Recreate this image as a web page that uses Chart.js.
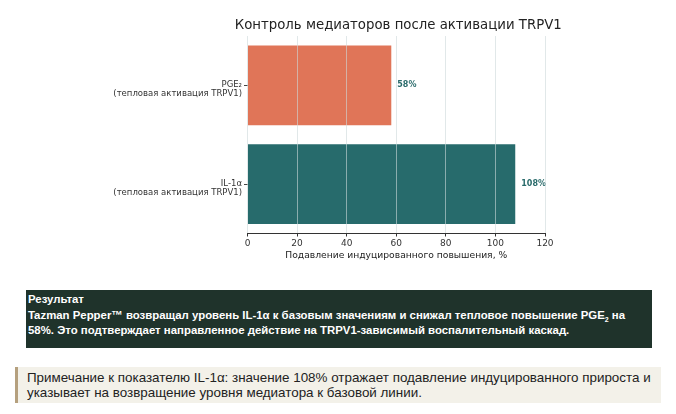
<!DOCTYPE html>
<html lang="ru">
<head>
<meta charset="utf-8">
<script src="https://cdn.jsdelivr.net/npm/chart.js@4"></script>
<style>
  html, body { margin: 0; padding: 0; background: #fff; }
  body { width: 676px; height: 414px; position: relative; overflow: hidden; font-family: "Liberation Sans", Arial, sans-serif; }
  #chartBox { position: absolute; left: 0; top: 0; width: 676px; height: 275px; }
  .result {
    position: absolute; left: 26px; top: 290px; width: 621px; height: 54px;
    background: #1f332b; color: #fff; font-weight: bold; font-size: 11.4px;
    line-height: 15.5px; padding: 2px 3px 2px 2px;
  }
  .result sub { font-size: 7px; line-height: 0; }
  .note {
    position: absolute; left: 15px; top: 367px; height: 36px; width: 646px;
    background: #f3f1e9; border-left: 3px solid #b5a07e; color: #222;
    font-size: 13.4px; line-height: 15px; padding: 3px 0 0 9px; box-sizing: border-box;
  }
</style>
</head>
<body>
<div id="chartBox"><canvas id="balkenDiagramm"></canvas></div>

<div class="result">
  Результат<br>
  Tazman Pepper™ возвращал уровень IL-1α к базовым значениям и снижал тепловое повышение PGE<sub>2</sub> на<br>
  58%. Это подтверждает направленное действие на TRPV1-зависимый воспалительный каскад.
</div>

<div class="note">
  Примечание к показателю IL-1α: значение 108% отражает подавление индуцированного прироста и<br>
  указывает на возвращение уровня медиатора к базовой линии.
</div>

<script>
// Daten
const kategorien = [
  ['PGE₂', '(тепловая активация TRPV1)'],
  ['IL-1α', '(тепловая активация TRPV1)']
];
const unterdrueckung = [58, 108];
const xTicks = [0, 20, 40, 60, 80, 100, 120];

const titel = 'Контроль медиаторов после активации TRPV1';
const xTitel = 'Подавление индуцированного повышения, %';

// Werte rechts neben die Balken schreiben
const wertLabels = {
  id: 'wertLabels',
  afterDatasetsDraw(chart) {
    const ctx = chart.ctx;
    const meta = chart.getDatasetMeta(0);
    ctx.save();
    ctx.font = 'bold 8px "DejaVu Sans"';
    ctx.fillStyle = '#2a6b6b';
    ctx.textAlign = 'left';
    ctx.textBaseline = 'middle';
    meta.data.forEach((bar, i) => {
      ctx.fillText(unterdrueckung[i] + '%', bar.x + 6, bar.y);
    });
    ctx.restore();
  }
};

// Titel ueber der Plotflaeche zentriert (darf breiter sein als die Flaeche)
const titelPlugin = {
  id: 'titelPlugin',
  afterDraw(chart) {
    const ctx = chart.ctx;
    const area = chart.chartArea;
    ctx.save();
    ctx.font = '13.3px "DejaVu Sans"';
    ctx.fillStyle = '#222';
    ctx.textAlign = 'center';
    ctx.textBaseline = 'middle';
    ctx.fillText(titel, (area.left + area.right) / 2 + 2, area.top - 10);
    ctx.restore();
  }
};

const balkenDiagramm = document.querySelector('#balkenDiagramm');

new Chart(balkenDiagramm, {
  type: 'bar',
  data: {
    labels: kategorien,
    datasets: [{
      data: unterdrueckung,
      backgroundColor: ['#e07558', '#276b6c'],
      borderWidth: 0,
      barPercentage: 1,
      categoryPercentage: 0.81
    }]
  },
  options: {
    indexAxis: 'y',
    responsive: true,
    maintainAspectRatio: false,
    animation: false,
    layout: { padding: { left: 0, right: 131, top: 36, bottom: 0 } },
    plugins: {
      legend: { display: false },
      tooltip: { enabled: false },
      title: { display: false }
    },
    scales: {
      x: {
        min: 0,
        max: 120,
        afterFit(scale) { scale.height = 41.5; },
        afterBuildTicks(scale) { scale.ticks = xTicks.map(v => ({ value: v })); },
        grid: {
          z: 1,
          color: 'rgba(205, 216, 218, 0.6)',
          drawTicks: true,
          tickLength: 3,
          tickColor: '#333'
        },
        border: { display: true, color: '#333', width: 1, z: 1 },
        ticks: {
          color: '#333',
          padding: 1.5,
          font: { family: 'DejaVu Sans', size: 9 }
        },
        title: {
          display: true,
          text: xTitel,
          color: '#222',
          font: { family: 'DejaVu Sans', size: 9.2 },
          padding: { top: 0, bottom: 13.5 }
        }
      },
      y: {
        afterFit(scale) { scale.width = 247.5; },
        grid: {
          display: true,
          drawOnChartArea: false,
          drawTicks: true,
          tickLength: 3.5,
          tickColor: '#444',
          offset: false
        },
        border: { display: false },
        ticks: {
          color: '#333',
          padding: 2,
          labelOffset: 4,
          font: { family: 'DejaVu Sans', size: 8.5, lineHeight: 1.1 }
        }
      }
    }
  },
  plugins: [wertLabels, titelPlugin]
});
</script>
</body>
</html>
